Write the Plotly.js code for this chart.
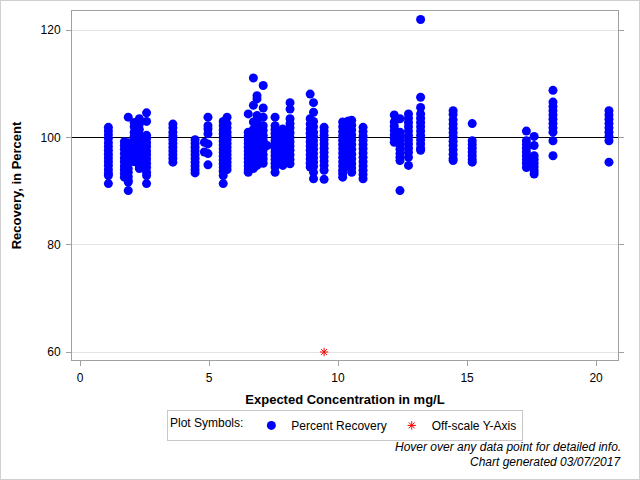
<!DOCTYPE html>
<html>
<head>
<meta charset="utf-8">
<script src="https://cdn.plot.ly/plotly-3.0.1.min.js"></script>
<style>
  html, body { margin: 0; padding: 0; background: #fff; }
  #wrap { position: relative; width: 640px; height: 480px; }
  #chart { width: 640px; height: 480px; }
  #frame { position: absolute; left: 0; top: 0; width: 640px; height: 480px; box-sizing: border-box; border: 1px solid #d0d0d0; pointer-events: none; }
  #chart .shapelayer path { shape-rendering: crispEdges; }
</style>
</head>
<body>
<div id="wrap"><div id="chart"></div><div id="frame"></div></div>
<script>
// Expected concentration levels (mg/L)
const levels = [1.1, 1.72, 1.87, 2.1, 2.3, 2.58, 3.6, 4.46, 4.82, 4.96,
  5.55, 5.7, 6.52, 6.72, 6.86, 7.1, 7.25, 7.56, 7.86, 8.14,
  8.92, 9.05, 9.46, 10.18, 10.4, 10.53, 10.97, 12.18, 12.4, 12.73,
  13.2, 14.46, 15.2, 17.3, 17.6, 18.33, 20.5];

// Percent recovery values observed at each level
const recoveryByLevel = [
  [101.9, 101.2, 100.5, 99.8, 99.0, 98.3, 97.6, 96.9, 96.2, 95.5, 94.8, 94.0, 93.3, 92.9, 91.4],
  [99.2, 98.5, 97.8, 97.0, 96.2, 95.5, 94.7, 94.0, 93.3, 92.6],
  [103.8, 99.0, 98.0, 97.3, 96.5, 95.8, 95.0, 94.2, 93.5, 92.7, 92.0, 91.7, 90.1],
  [102.8, 102.0, 101.0, 100.2, 99.5, 98.6, 97.8, 97.0, 96.0, 95.5],
  [103.5, 102.5, 101.5, 100.5, 99.8, 99.0, 98.2, 97.3, 96.5, 95.6, 94.8, 94.2],
  [104.6, 103.0, 100.4, 99.8, 99.0, 98.3, 97.5, 96.8, 96.0, 95.2, 94.4, 93.5, 92.9, 91.4],
  [102.5, 101.8, 101.0, 100.3, 99.6, 98.9, 98.2, 97.5, 96.8, 96.1, 95.4],
  [99.6, 98.9, 98.2, 97.5, 96.8, 96.1, 95.4, 94.7, 94.0, 93.4],
  [99.1, 97.3],
  [103.8, 102.2, 101.6, 100.7, 98.8, 97.0, 94.9],
  [103.0, 102.2, 101.4, 100.7, 100.0, 99.3, 98.6, 97.9, 97.2, 96.5, 95.8, 95.1, 94.4, 93.7, 92.9, 91.4],
  [103.8, 102.6, 101.8, 101.0, 100.3, 99.6, 98.9, 98.2, 97.5, 96.8, 96.1, 95.4, 94.7, 94.0],
  [104.4, 101.0, 100.3, 99.6, 98.9, 98.2, 97.5, 96.8, 96.1, 95.4, 94.7, 94.0, 93.5],
  [111.1, 106.0, 102.9, 101.5, 100.6, 99.8, 99.0, 98.1, 97.2, 96.4, 95.5, 94.2],
  [107.8, 107.2, 104.1, 103.0, 101.8, 100.9, 100.0, 99.2, 98.4, 97.5, 96.6, 95.6, 94.8],
  [109.7, 105.5, 103.8, 102.2, 101.3, 100.4, 99.5, 98.6, 97.7, 96.8, 96.0, 95.2],
  [98.5],
  [103.8, 102.2, 101.5, 100.8, 100.1, 99.4, 98.7, 98.0, 97.3, 96.6, 95.9, 95.2, 94.5, 93.5],
  [101.6, 100.8, 100.0, 99.2, 98.4, 97.6, 96.8, 96.0, 95.3, 94.8],
  [106.5, 105.3, 103.5, 102.6, 101.8, 100.9, 100.0, 99.2, 98.4, 97.6, 96.8, 95.9, 95.1],
  [108.1, 103.5, 102.5, 101.6, 100.8, 100.0, 99.2, 98.4, 97.6, 96.8, 96.0, 95.2, 94.5],
  [106.5, 104.7, 103.0, 102.0, 101.0, 100.2, 99.4, 98.6, 97.8, 97.0, 96.2, 95.4, 94.6, 93.5, 92.3],
  [101.9, 101.2, 100.4, 99.6, 98.8, 98.0, 97.2, 96.4, 95.6, 94.8, 93.9, 92.2],
  [102.9, 102.0, 101.1, 100.3, 99.5, 98.7, 97.9, 97.1, 96.3, 95.5, 94.7, 93.9, 93.3, 92.6],
  [103.1, 102.2, 101.3, 100.4, 99.6, 98.7, 97.8, 96.9, 96.0, 95.2, 94.5],
  [103.2, 102.3, 101.4, 100.5, 99.6, 98.7, 97.8, 96.9, 96.0, 95.1, 94.3, 93.5],
  [101.9, 101.1, 100.3, 99.5, 98.7, 97.9, 97.1, 96.3, 95.5, 94.7, 93.9, 93.1, 92.3],
  [104.2, 102.9, 102.1, 101.3, 100.5, 99.8, 99.1],
  [103.5, 101.0, 100.2, 99.4, 98.6, 97.8, 97.0, 96.3, 95.7, 90.1],
  [104.4, 103.6, 102.8, 102.0, 101.2, 100.4, 99.6, 98.8, 98.0, 97.2, 96.3, 94.8],
  [122.0, 107.5, 105.6, 104.4, 103.6, 102.8, 102.0, 101.2, 100.4, 99.6, 98.8, 98.0, 97.6],
  [105.0, 104.3, 103.3, 102.5, 101.7, 100.9, 100.1, 99.3, 98.5, 97.7, 96.9, 96.1, 95.7],
  [102.6, 99.4, 98.7, 98.0, 97.3, 96.6, 95.9, 95.4],
  [101.2, 99.4, 98.7, 98.0, 97.3, 96.6, 95.9, 95.2, 94.4],
  [100.2, 98.5, 96.6, 95.9, 95.2, 94.5, 93.8, 93.2],
  [108.8, 106.6, 105.8, 105.0, 104.2, 103.4, 102.6, 101.8, 101.0, 99.4, 96.6],
  [105.0, 104.2, 103.4, 102.6, 101.8, 101.0, 100.2, 99.4, 95.4]
];

// Off-scale observation (plotted at the bottom of the axis)
const offscaleX = [9.46];
const offscaleY = [60];

const xTickVals = [0, 5, 10, 15, 20];
const yTickVals = [60, 80, 100, 120];
const targetRecovery = 100;

const xs = [], ys = [];
levels.forEach((lv, i) => {
  recoveryByLevel[i].forEach(v => { xs.push(lv); ys.push(v); });
});

const FONT = 'Liberation Sans, Arial, Helvetica, sans-serif';
const AXIS_GRAY = '#a0a0a0';

const traces = [
  {
    type: 'scatter', mode: 'markers', name: 'Percent Recovery',
    x: xs, y: ys,
    marker: { symbol: 'circle', size: 9, color: '#0000ff', line: { width: 0 } },
    hovertemplate: 'Conc: %{x} mg/L<br>Recovery: %{y}%<extra></extra>'
  },
  {
    type: 'scatter', mode: 'markers', name: 'Off-scale Y-Axis',
    x: offscaleX, y: offscaleY,
    marker: { symbol: 'asterisk-open', size: 7, color: '#ff0000', line: { color: '#ff0000', width: 1 } },
    hovertemplate: 'Off-scale<extra></extra>'
  }
];

// horizontal grid lines (except at the target) + black reference line at 100%, all under the markers
const shapes = yTickVals.filter(v => v !== targetRecovery).map(v => ({
  type: 'line', xref: 'paper', x0: 0, x1: 1, yref: 'y', y0: v, y1: v,
  line: { color: '#e3e3e3', width: 1 }, layer: 'below'
}));
shapes.push({
  type: 'line', xref: 'paper', x0: 0, x1: 1, yref: 'y', y0: targetRecovery, y1: targetRecovery,
  line: { color: '#000000', width: 1 }, layer: 'below'
});

const layout = {
  width: 640, height: 480,
  margin: { l: 72, r: 22, t: 11, b: 120 },
  paper_bgcolor: '#ffffff', plot_bgcolor: '#ffffff',
  font: { family: FONT, size: 12, color: '#000' },
  showlegend: true,
  xaxis: {
    range: [-0.31, 20.85],
    tickvals: xTickVals,
    ticks: 'outside', ticklen: 5, tickcolor: AXIS_GRAY, ticklabelstandoff: 2,
    showline: true, linecolor: AXIS_GRAY, linewidth: 1, mirror: true,
    showgrid: false, zeroline: false,
    tickfont: { family: FONT, size: 12, color: '#000' },
    title: { text: 'Expected Concentration in mg/L', font: { family: FONT, size: 13, color: '#000', weight: 'bold' }, standoff: 10 }
  },
  yaxis: {
    range: [58.51, 123.59],
    tickvals: yTickVals,
    ticks: 'outside', ticklen: 5, tickcolor: AXIS_GRAY, ticklabelstandoff: 3,
    showline: true, linecolor: AXIS_GRAY, linewidth: 1, mirror: 'allticks',
    showgrid: false, zeroline: false,
    tickfont: { family: FONT, size: 12, color: '#000' },
    title: { text: 'Recovery, in Percent', font: { family: FONT, size: 13, color: '#000', weight: 'bold' }, standoff: 16 }
  },
  shapes: shapes,
  legend: {
    orientation: 'h', x: 0.5, xanchor: 'center', y: -0.143, yanchor: 'top',
    bordercolor: '#c8c8c8', borderwidth: 1, bgcolor: '#fff',
    font: { family: FONT, size: 12, color: '#000' },
    title: { text: 'Plot Symbols:', side: 'left', font: { family: FONT, size: 12, color: '#000' } },
    itemwidth: 30, tracegroupgap: 0
  },
  annotations: [
    { xref: 'paper', yref: 'paper', x: 1.009, y: -0.2493, xanchor: 'right', yanchor: 'middle', showarrow: false,
      text: '<i>Hover over any data point for detailed info.</i>', font: { family: FONT, size: 12, color: '#000' } },
    { xref: 'paper', yref: 'paper', x: 1.009, y: -0.2923, xanchor: 'right', yanchor: 'middle', showarrow: false,
      text: '<i>Chart generated 03/07/2017</i>', font: { family: FONT, size: 12, color: '#000' } }
  ],
  hovermode: 'closest'
};

Plotly.newPlot('chart', traces, layout, { displayModeBar: false, responsive: false });
</script>
</body>
</html>
